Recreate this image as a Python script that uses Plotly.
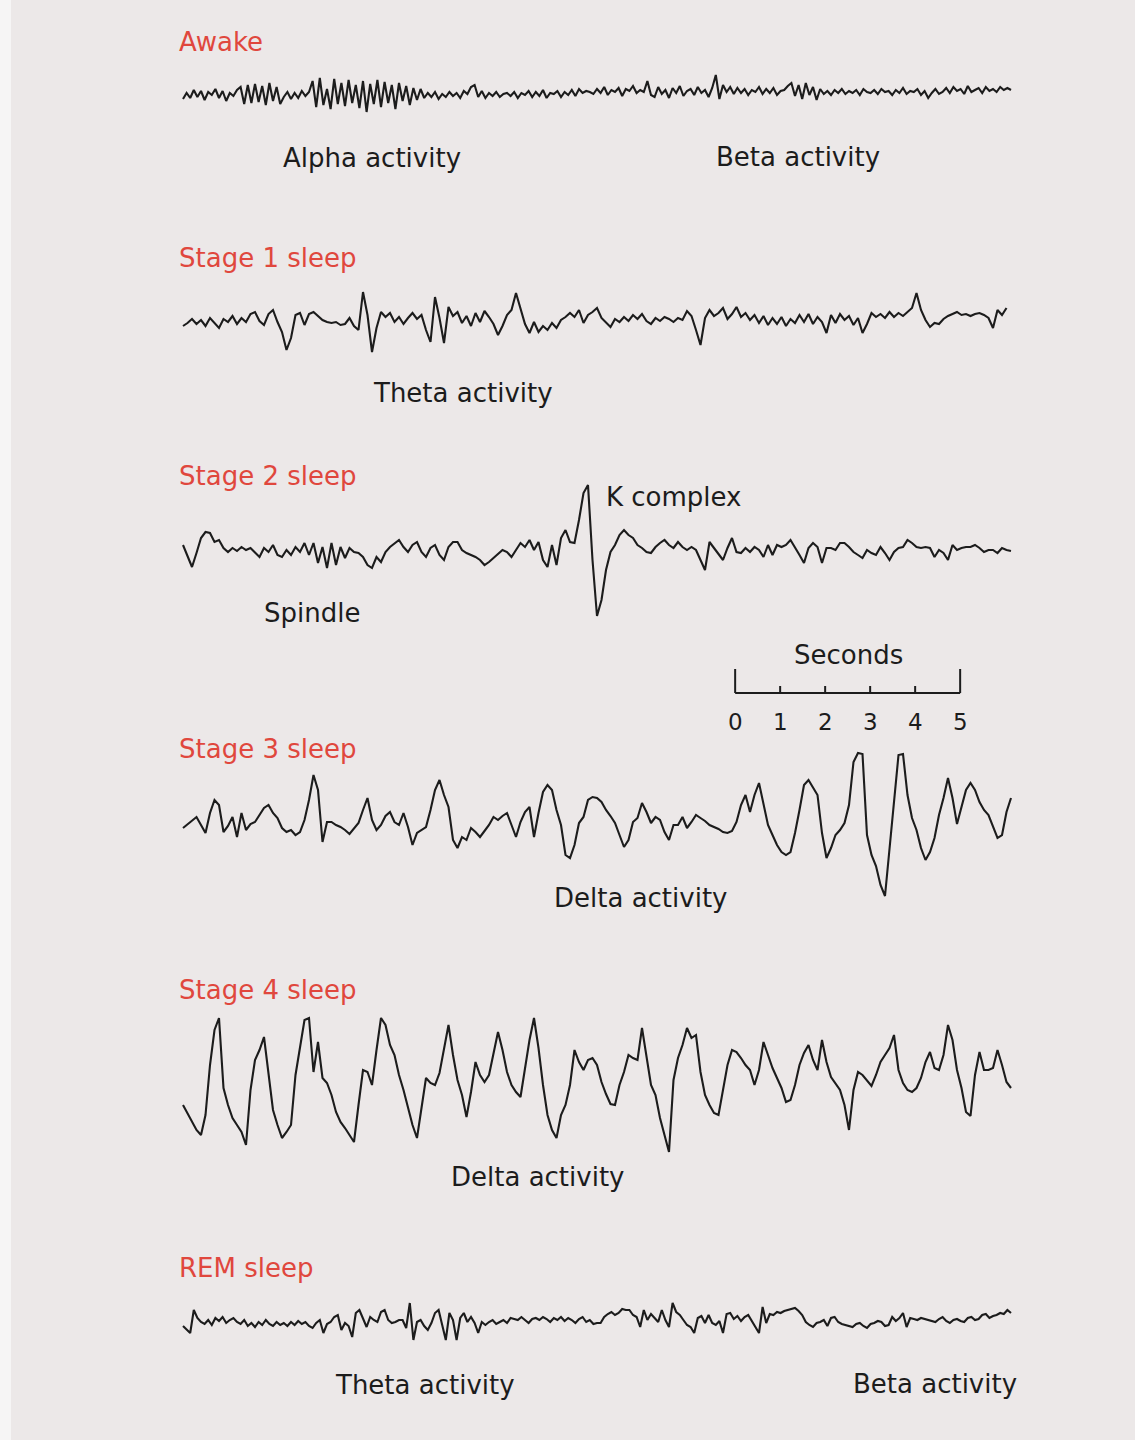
import plotly.graph_objects as go

# ---------------------------------------------------------------------------
# EEG amplitude samples (arbitrary units, positive = upward deflection)
# ---------------------------------------------------------------------------
STEP_FAST = 0.08   # s between samples for the fast (awake / REM) records
STEP_SLOW = 0.10   # s between samples for sleep stages 1-4

awake = [
    -4, 2, -3, 5, -2, 4, -5, 3, 0, 6, -3, 4, -6, 2, -1, 5,
    8, -9, 10, -8, 11, -7, 9, -10, 12, -6, 8, -9,
    -2, 3, -4, 2, -3, 4, -1, 3,
    14, -12, 17, -10, 6, -14, 16, -9, 12, -11, 15, -8, 10,
    -13, 14, -17, 11, -9, 15, -12, 13, -8, 10, -14, 12, -6, 9, -10, 7, -5, 6,
    -3, 2, -2, 3, -4, 1, -2, 3, -1, 2, -3, 4, 1, 8, 10, -2, 4, -3, 2, -1, 3, -2, 1,
    2, -1, 3, -3, 2, 0, 4, -2, 3, -1, 5, -3, 2, 1, 4, -2, 3, 0, 5, -1, 6, 2, 4, 3,
    1, 6, 2, 8, 0, 5, 3, 7, -1, 6, 4, 9, 2, 5, 3, 14, 0,
    -2, 8, 1, 5, -3, 7, 2, 9, -1, 4, 6, 0, 8, 2, 5, -2, 7, 20, -4, 10,
    3, 8, 1, 7, 2, 6, 0, 5, 3, 8, 1, 6, 2, 7, 0, 4, 5, 9, 12, -1,
    10, -4, 12, 0, 8, -5, 6, 1, 4, 0, 5, 2, 6, 1, 4, 2, 5, 0, 6, 3,
    2, 5, 1, 6, 3, 4, 0, 5, 2, 7, 1, 4, 3, 6, 0, 4, -3, 2, 6, 1,
    3, 7, 2, 8, 4, 6, 1, 9, 3, 5, 7, 2, 8, 4, 6, 3, 8, 5, 7, 5,
]

stage1 = [
    -6, -3, 1, -4, 0, -6, 2, -3, -8, 1,
    -2, 4, -4, 2, -2, 6, 8, -1, -5, 6,
    10, -2, -12, -30, -18, 5, 7, -5, 6, 8,
    4, 0, -2, -3, -2, -5, -4, 2, -6, -10,
    28, 5, -32, -8, 8, 3, 7, -2, 3, -4,
    2, 7, 1, 5, -10, -22, 23, 2, -23, 13,
    4, 8, -3, 4, -6, 7, -2, 9, 3, -4,
    -15, -6, 5, 10, 27, 12, -4, -13, -2, -12,
    -6, -10, -3, -8, 0, 3, 7, 3, 10, -3,
    5, 8, 12, 2, -3, -7, 1, -2, 3, -1,
    5, 1, 6, -1, -4, 2, -1, 3, 1, -2,
    2, 0, 9, 4, -10, -25, 2, 10, 4, 7,
    12, 1, 6, 13, 3, 7, 0, 5, -3, 4,
    -5, 2, -4, 3, -6, 1, -3, 5, -2, 6,
    -4, 3, -2, -13, 5, -3, 6, 0, 4, -5,
    2, -13, -4, 7, 3, 6, 2, 8, 3, 7,
    4, 8, 12, 27, 10, 0, -7, -3, -4, 1,
    4, 6, 8, 5, 6, 4, 6, 7, 5, 2,
    -8, 10, 5, 12,
]

stage2 = [
    5, -7, -17, -3, 12, 18, 17, 8, 10, 2,
    -2, 2, -1, 3, 0, 2, -3, -7, 2, -2,
    5, -5, -7, 0, -5, 3, -2, 7, -5, 7,
    -13, 3, -18, 7, -15, 3, -8, 2, -2, -3,
    -7, -15, -18, -7, -12, -2, 3, 7, 10, 3,
    -2, 5, 8, -2, -7, 2, 5, -5, -10, 3,
    8, 8, 0, -3, -5, -7, -10, -15, -12, -8,
    -5, 0, -2, -7, 0, 7, 3, 10, 0, 8,
    -10, -17, 5, -15, 12, 20, 8, 7, 30, 57,
    65, -10, -66, -50, -20, -2, 5, 15, 20, 15,
    12, 5, 2, -2, -3, 3, 7, 10, 5, 2,
    8, 3, 0, 3, 0, -10, -20, 8, 2, -5,
    -10, 2, 12, -2, -3, 2, -2, 3, 0, -7,
    5, -5, 5, 3, 5, 10, 3, -5, -13, 2,
    7, 3, -13, 2, 2, 0, 7, 7, 3, -2,
    -5, -8, 0, -3, -5, 3, -3, -10, -2, 2,
    3, 10, 7, 3, 2, 3, 2, -7, 0, -3,
    -10, 5, 0, 2, 3, 3, 5, 2, -2, 0,
    0, -3, 2, 0, -1,
]

stage3 = [
    2, 6, 10, 13, 5, -3, 17, 30, 25, -2,
    4, 13, -7, 17, 0, 6, 8, 15, 22, 25,
    17, 12, 2, -2, 0, -5, -2, 10, 30, 55,
    40, -12, 8, 8, 5, 3, 0, -4, 2, 7,
    20, 32, 10, 0, 5, 14, 18, 8, 5, 17,
    3, -15, -3, 0, 3, 20, 40, 50, 35, 23,
    -10, -18, -7, -10, 2, -2, -7, -1, 5, 13,
    10, 14, 17, 5, -7, 8, 18, 23, -7, 17,
    38, 45, 40, 20, 5, -25, -28, -15, 7, 13,
    30, 33, 32, 28, 20, 14, 7, -5, -17, -10,
    8, 12, 27, 18, 7, 13, 10, -2, -10, 5,
    5, 13, 2, 8, 15, 12, 9, 5, 3, 1,
    -2, -3, -1, 8, 25, 35, 18, 35, 47, 25,
    5, -5, -15, -22, -25, -22, -3, 20, 45, 50,
    43, 35, -3, -28, -18, -5, 0, 7, 25, 68,
    77, 76, -5, -25, -36, -55, -66, -20, 25, 75,
    76, 35, 12, 0, -18, -30, -22, -8, 15, 32,
    52, 32, 6, 22, 40, 47, 40, 28, 20, 15,
    3, -8, -5, 18, 32,
]

stage4 = [
    -25, -33, -42, -50, -55, -35, 15, 50, 62, -8,
    -25, -38, -45, -52, -65, -10, 20, 30, 43, 5,
    -30, -45, -58, -52, -45, 5, 35, 60, 62, 8,
    38, 2, -3, -15, -32, -42, -48, -55, -62, -25,
    10, 8, -5, 30, 62, 55, 35, 25, 5, -10,
    -28, -45, -58, -30, 2, -3, -5, 7, 30, 55,
    25, 0, -15, -37, -12, 18, 5, -2, 5, 25,
    48, 30, 8, -5, -12, -17, 10, 40, 62, 32,
    -5, -35, -50, -58, -35, -25, -5, 30, 18, 10,
    20, 22, 15, -2, -14, -24, -25, -5, 8, 25,
    22, 20, 52, 25, -5, -15, -38, -55, -72, 0,
    22, 35, 52, 42, 45, 8, -15, -25, -33, -35,
    -10, 15, 30, 28, 22, 15, 10, -5, 10, 38,
    25, 12, 2, -8, -22, -20, -5, 15, 27, 35,
    20, 10, 40, 18, 3, -3, -10, -25, -50, -10,
    8, 5, 0, -6, 5, 18, 25, 32, 45, 10,
    -3, -10, -12, -8, 2, 18, 28, 12, 10, 25,
    55, 40, 10, -8, -32, -36, 5, 28, 10, 10,
    12, 30, 15, -2, -8,
]

rem = [
    -6, -10, -13, 10, 2, -2,
    -4, 0, -5, 2, -1, 3, -3, 0, 2, -2,
    -4, 0, -6, -3, -7, -2, -5, 0, -4, -6, -2,
    -5, -3, -6, -2, -5, -1, -4, -2, -6, -8, -3, 0, -13, -4,
    -2, 3, 5, -10, -3, -6, -17, 7, 10, 2,
    -7, 3, 0, -2, 8, 10, 0, -3, -2, 0,
    0, -8, 17, -20, -2, 0, -6, -10, -3, 7,
    10, -5, -20, 7, 0, -20, 2, 7, -2, 3,
    -3, -13, -2, -5, -2, 0, -4, -2, 0, -3,
    2, 1, 0, 3, 0, -3, 1, 2, 0, 3,
    1, -2, 2, 0, 3, -1, 2, 0, -3, 1, 3, -2, 0, -4, -3,
    -3, 3, 6, 8, 5, 7, 11, 10, 10, 5,
    3, -7, 10, 0, 6, 2, -2, 10, 0, -7,
    17, 8, 5, 0, -5, -7, -13, 2, 4, -3,
    5, -3, -5, -1, -13, 6, 7, 1, 4, -1,
    3, 5, -1, -8, -13, 13, -3, 6, 5, 8,
    7, 9, 10, 11, 12, 9, 5, -2, -5, -7,
    -3, -2, 0, -6, 2, 3, -2, -4, -5, -6,
    -7, -4, -3, -6, -8, -4, -3, -1, -2, -6,
    -5, 3, -1, 2, 7, -7, 2, 1, 0, 2,
    1, 0, -1, -2, 1, 3, -1, -3, 0, 1,
    -1, -2, 2, 3, 0, 1, 5, 6, 2, 4,
    5, 7, 6, 10, 7,
]

stage_names = ["Awake", "Stage 1 sleep", "Stage 2 sleep",
               "Stage 3 sleep", "Stage 4 sleep", "REM sleep"]
scale_seconds = [0, 1, 2, 3, 4, 5]

# ---------------------------------------------------------------------------
# Page geometry
# ---------------------------------------------------------------------------
W, H = 1135, 1440
PX_PER_S = 45          # horizontal scale: pixels per second of record
TRACE_LEFT = 183       # page x where every record starts
HALF = 90              # half-height (px) of each record's strip
SCALE_T0 = 12.27       # time (s) where the "Seconds" bar begins

BG = "#ece8e8"
INK = "#1c1c1c"
RED = "#e0473d"
FONT = "DejaVu Sans, Liberation Sans, Arial, sans-serif"
TEXT_SIZE = 26

records = [
    # (values, sample step, baseline y on page, label y on page)
    (awake, STEP_FAST, 95, 42),
    (stage1, STEP_SLOW, 320, 258),
    (stage2, STEP_SLOW, 550, 476),
    (stage3, STEP_SLOW, 830, 749),
    (stage4, STEP_SLOW, 1080, 990),
    (rem, STEP_FAST, 1320, 1268),
]


def fx(px):
    return px / W


def fy(py):
    return 1 - py / H


fig = go.Figure()
layout_axes = {}

for k, (vals, step, base, _) in enumerate(records, start=1):
    name = "y" if k == 1 else f"y{k}"
    key = "yaxis" if k == 1 else f"yaxis{k}"
    times = [i * step for i in range(len(vals))]
    fig.add_trace(go.Scatter(
        x=times, y=vals, mode="lines", xaxis="x", yaxis=name,
        line=dict(color=INK, width=2.1), hoverinfo="skip",
        showlegend=False, cliponaxis=False,
    ))
    layout_axes[key] = dict(
        domain=[fy(base + HALF), fy(base - HALF)],
        range=[-HALF, HALF], visible=False, fixedrange=True,
        anchor="x",
    )

annotations = []
for name, (_, _, _, ly) in zip(stage_names, records):
    annotations.append(dict(
        text=name, x=fx(177), y=fy(ly), xref="paper", yref="paper",
        xanchor="left", yanchor="middle", showarrow=False,
        font=dict(family=FONT, size=TEXT_SIZE, color=RED),
    ))

black_labels = [
    ("Alpha activity", 372, 158, "center"),
    ("Beta activity", 798, 157, "center"),
    ("Theta activity", 463, 393, "center"),
    ("K complex", 604, 497, "left"),
    ("Spindle", 312, 613, "center"),
    ("Seconds", 848, 655, "center"),
    ("Delta activity", 640, 898, "center"),
    ("Delta activity", 537, 1177, "center"),
    ("Theta activity", 425, 1385, "center"),
    ("Beta activity", 935, 1384, "center"),
]
for text, px, py, anchor in black_labels:
    annotations.append(dict(
        text=text, x=fx(px), y=fy(py), xref="paper", yref="paper",
        xanchor=anchor, yanchor="middle", showarrow=False,
        font=dict(family=FONT, size=TEXT_SIZE, color=INK),
    ))

# Time scale bar drawn on the shared time axis
shapes = [
    dict(type="rect", xref="paper", yref="paper", x0=0, x1=fx(11),
         y0=0, y1=1, fillcolor="#f6f5f5", line=dict(width=0), layer="below"),
    dict(type="line", xref="x", yref="paper",
         x0=SCALE_T0 + scale_seconds[0], x1=SCALE_T0 + scale_seconds[-1],
         y0=fy(693), y1=fy(693), line=dict(color=INK, width=2)),
]
for s in scale_seconds:
    top = 669 if s in (scale_seconds[0], scale_seconds[-1]) else 686
    shapes.append(dict(type="line", xref="x", yref="paper",
                       x0=SCALE_T0 + s, x1=SCALE_T0 + s,
                       y0=fy(693), y1=fy(top),
                       line=dict(color=INK, width=2)))
    annotations.append(dict(
        text=str(s), x=SCALE_T0 + s, y=fy(722), xref="x", yref="paper",
        xanchor="center", yanchor="middle", showarrow=False,
        font=dict(family=FONT, size=23, color=INK),
    ))

fig.update_layout(
    width=W, height=H, autosize=False,
    margin=dict(l=0, r=0, t=0, b=0, pad=0),
    paper_bgcolor=BG, plot_bgcolor=BG,
    xaxis=dict(range=[-TRACE_LEFT / PX_PER_S, (W - TRACE_LEFT) / PX_PER_S],
               visible=False, fixedrange=True, domain=[0, 1]),
    annotations=annotations, shapes=shapes,
    **layout_axes,
)

fig.write_html("out.html", config={"displayModeBar": False})
